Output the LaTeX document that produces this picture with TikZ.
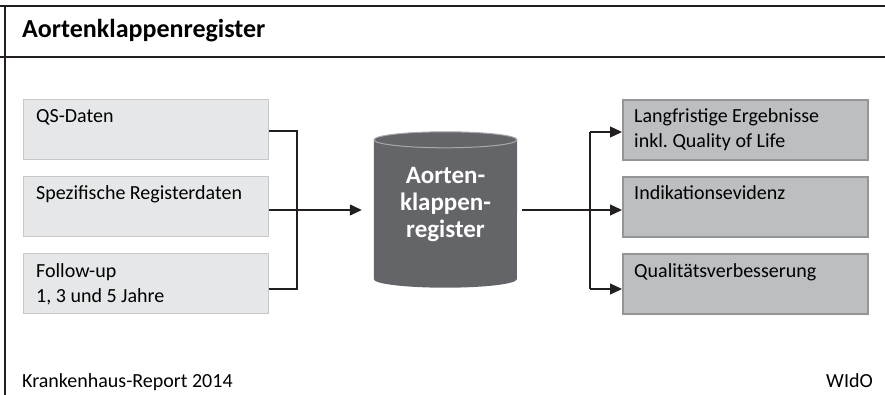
\documentclass[tikz,border=0pt]{standalone}
\usepackage{fontspec}
\setmainfont{Carlito}
\usetikzlibrary{arrows.meta}
\frenchspacing
\definecolor{inkline}{HTML}{231F20}
\definecolor{srcfill}{HTML}{E6E7E8}
\definecolor{srcedge}{HTML}{C7C8CA}
\definecolor{resfill}{HTML}{BCBEC0}
\definecolor{resedge}{HTML}{939598}
\definecolor{dbfill}{HTML}{646569}
\definecolor{dbrim}{HTML}{A7A9AC}
\tikzset{
  srcbox/.style={draw=srcedge, fill=srcfill, line width=1.2pt, minimum width=245pt, minimum height=60pt, inner sep=0pt},
  resbox/.style={draw=resedge, fill=resfill, line width=2pt, minimum width=245pt, minimum height=60pt, inner sep=0pt},
  boxtext/.style={anchor=base west, inner sep=0pt, font=\fontsize{20}{25}\selectfont, align=left},
  link/.style={draw=inkline, line width=1.3pt},
  arrowlink/.style={link, -{Triangle[length=12pt,width=11pt]}},
  frameline/.style={draw=inkline, line width=1.6pt}
}
\begin{document}
\begin{tikzpicture}[x=1pt,y=-1pt]
\useasboundingbox (0,0) rectangle (885,395);
% frame
\draw[frameline] (0,6) -- (885,6);
\draw[frameline] (0,57) -- (885,57);
\draw[frameline] (5,6) -- (5,395);
\node[anchor=base west, inner sep=0pt, font=\fontsize{26}{26}\selectfont\bfseries] (title) at (22,38) {Aortenklappenregister};

% source boxes
\node[srcbox, anchor=north west] (s1) at (23,99) {};
\node[srcbox, anchor=north west] (s2) at (23,176) {};
\node[srcbox, anchor=north west] (s3) at (23,253) {};
\node[boxtext] (t1) at (36,123) {QS-Daten};
\node[boxtext] (t2) at (36,200) {Spezifische Registerdaten};
\node[boxtext] (t3) at (36,302) {Follow-up\\1, 3 und 5 Jahre};

% register cylinder
\node[minimum width=143pt, minimum height=139pt, inner sep=0pt] (db) at (445.5,209.5) {};
\fill[dbfill] (db.north west) -- (db.south west)
  arc[start angle=180, end angle=360, x radius=71.5pt, y radius=8.5pt]
  -- (db.north east) -- cycle;
\draw[dbrim, fill=dbfill, line width=1pt] (db.north) ellipse[x radius=71.5pt, y radius=8pt];
\node[text=white, font=\fontsize{25}{27}\selectfont\bfseries, align=center, inner sep=0pt] (dbtext) at (445.5,205) {Aorten-\\klappen-\\register};

% result boxes
\node[resbox, anchor=north west] (r1) at (622,99) {};
\node[resbox, anchor=north west] (r2) at (622,176) {};
\node[resbox, anchor=north west] (r3) at (622,253) {};
\node[boxtext] (u1) at (634,148) {Langfristige Ergebnisse\\inkl. Quality of Life};
\node[boxtext] (u2) at (634,200) {Indikationsevidenz};
\node[boxtext] (u3) at (634,277) {Qualitätsverbesserung};

% collecting bracket on the left
\coordinate (jin) at (297,210);
\draw[link] (s1.east |- 0,131) -| (jin |- 0,131) -- (jin |- 0,289) -- (s3.east |- 0,289);
\draw[arrowlink] (s2.east |- jin) -- ([xshift=-12pt]db.west |- jin);

% distributing bracket on the right
\coordinate (jout) at (590,210);
\draw[link] ([xshift=5pt]db.east |- jout) -- (jout);
\draw[link] (jout |- 0,132) -- (jout |- 0,289);
\draw[arrowlink] (jout |- 0,132) -- (r1.west |- 0,132);
\draw[arrowlink] (jout) -- (r2.west |- jout);
\draw[arrowlink] (jout |- 0,289) -- (r3.west |- 0,289);

% footer
\node[anchor=base west, inner sep=0pt, font=\fontsize{20}{20}\selectfont] (src) at (22,387) {Krankenhaus-Report 2014};
\node[anchor=base east, inner sep=0pt, font=\fontsize{20}{20}\selectfont] (pub) at (873,387) {WIdO};
\end{tikzpicture}
\end{document}
